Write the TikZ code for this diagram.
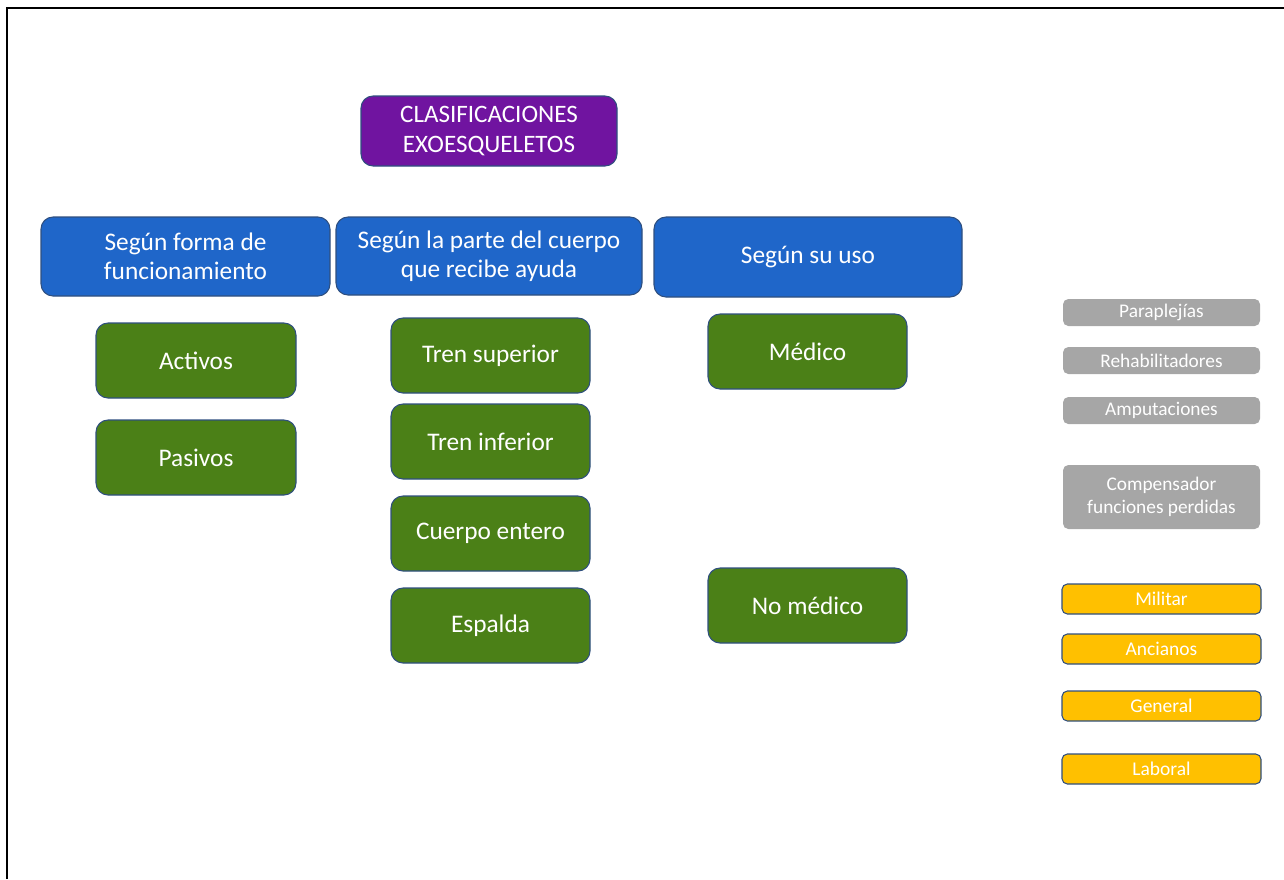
\documentclass[tikz,border=0pt]{standalone}
\usepackage{fontspec}
\setmainfont{Carlito}
\definecolor{purp}{HTML}{7014A0}
\definecolor{blu}{HTML}{1F66C9}
\definecolor{grn}{HTML}{4B8017}
\definecolor{gry}{HTML}{A6A6A6}
\definecolor{yel}{HTML}{FFC000}
\definecolor{edge}{HTML}{2F4F7F}
\tikzset{
  sz/.style 2 args={minimum width=#1*0.75pt, minimum height=#2*0.75pt},
  base/.style={inner sep=0pt, align=center, text=white},
  purpbox/.style={base, fill=purp, draw=edge, line width=0.8pt, rounded corners=9pt, font=\fontsize{18.8}{22.5}\selectfont},
  bluebox/.style={base, fill=blu, draw=edge, line width=0.8pt, rounded corners=9pt, font=\fontsize{19}{21.8}\selectfont},
  grnbox/.style={base, fill=grn, draw=edge, line width=0.8pt, rounded corners=9pt, font=\fontsize{19}{22}\selectfont},
  grybox/.style={base, fill=gry, rounded corners=4pt, font=\fontsize{14.5}{17.2}\selectfont},
  yelbox/.style={base, fill=yel, draw=edge, line width=0.8pt, rounded corners=4pt, font=\fontsize{14.6}{17}\selectfont},
}
\begin{document}
\begin{tikzpicture}[x=0.75pt,y=-0.75pt]
\useasboundingbox (0,0) rectangle (1284,879);
\draw[line width=1.5pt, black] (7,879) -- (7,8) -- (1284,8);
% title
\node[purpbox, sz={256}{70}] (title) at (489,131) {CLASIFICACIONES\\EXOESQUELETOS};
% headers
\node[bluebox, sz={289}{79}] (h1) at (185.5,256.5) {Según forma de\\funcionamiento};
\node[bluebox, sz={306}{78}] (h2) at (489,256) {Según la parte del cuerpo\\que recibe ayuda};
\node[bluebox, sz={308}{80}] (h3) at (808,257) {Según su uso};
% green
\node[grnbox, sz={200}{75}] (act) at (196,360.5) {Activos};
\node[grnbox, sz={200}{75}] (pas) at (196,457.5) {Pasivos};
\node[grnbox, sz={199}{75}] (ts) at (490.5,355.5) {Tren superior};
\node[grnbox, sz={199}{75}] (ti) at (490.5,441.5) {Tren inferior};
\node[grnbox, sz={199}{75}] (ce) at (490.5,533.5) {Cuerpo entero};
\node[grnbox, sz={199}{75}] (esp) at (490.5,625.5) {Espalda};
\node[grnbox, sz={199}{75}] (med) at (807.5,351.5) {Médico};
\node[grnbox, sz={199}{75}] (nomed) at (807.5,605.5) {No médico};
% gray
\node[grybox, sz={197}{27}] (par) at (1161.5,312.5) {Paraplejías};
\node[grybox, sz={197}{27}] (reh) at (1161.5,360.5) {Rehabilitadores};
\node[grybox, sz={197}{27}] (amp) at (1161.5,410.5) {Amputaciones};
\node[grybox, sz={197}{64}] (comp) at (1161.5,497) {Compensador\\funciones perdidas};
% yellow
\node[yelbox, sz={199}{30}] (mil) at (1161.5,599) {Militar};
\node[yelbox, sz={199}{30}] (anc) at (1161.5,649) {Ancianos};
\node[yelbox, sz={199}{30}] (gen) at (1161.5,706) {General};
\node[yelbox, sz={199}{30}] (lab) at (1161.5,769) {Laboral};
\end{tikzpicture}
\end{document}
